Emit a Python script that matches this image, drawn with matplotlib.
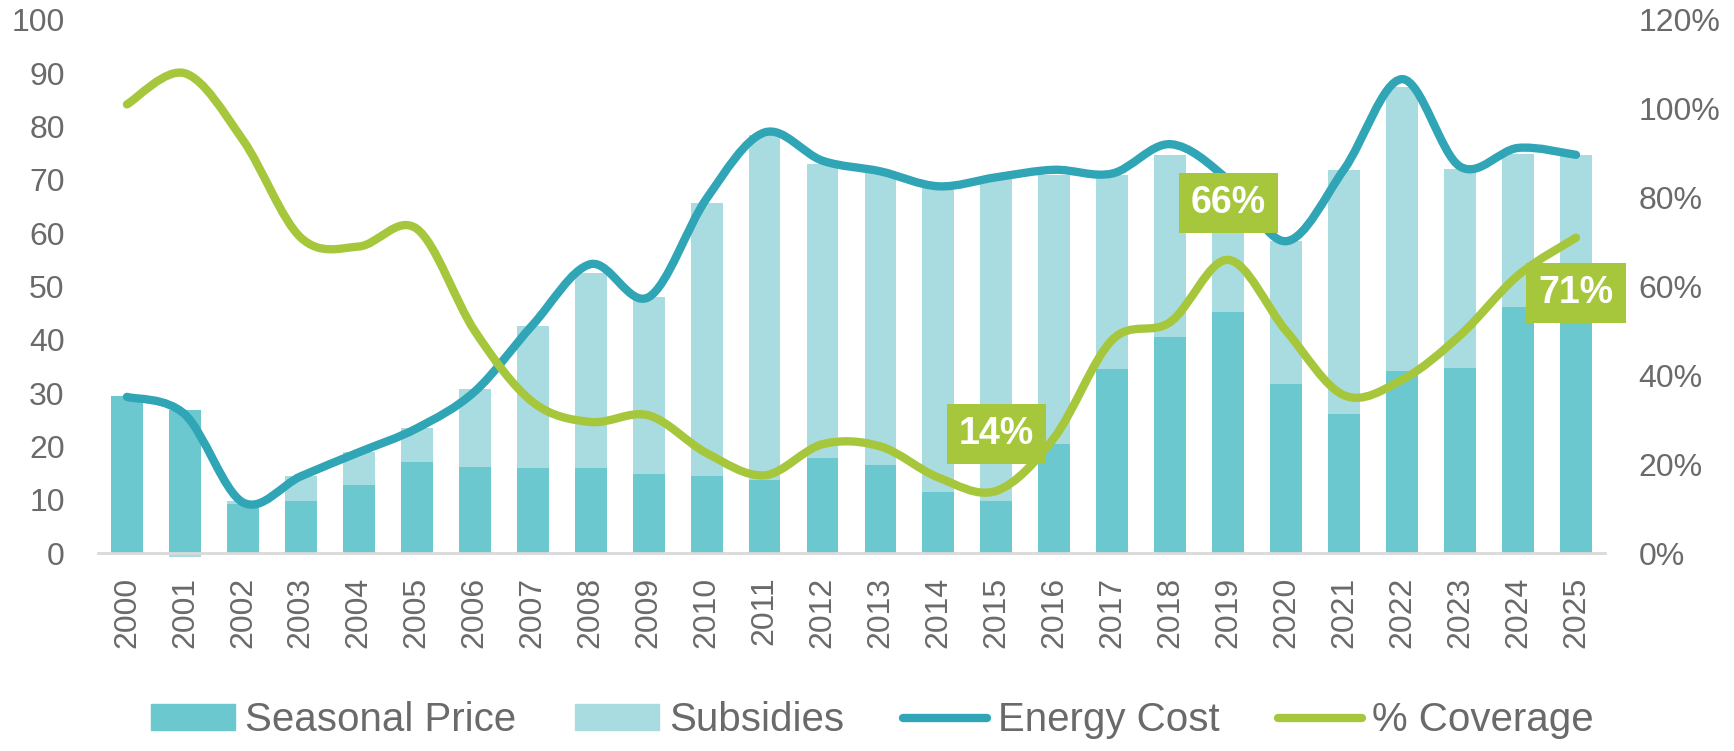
import matplotlib
matplotlib.use("Agg")
import matplotlib.pyplot as plt
from matplotlib.path import Path
from matplotlib.patches import PathPatch
from matplotlib.lines import Line2D
from matplotlib.ticker import FuncFormatter

# data
years = [str(y) for y in range(2000, 2026)]
seasonal_price = [29.4, 26.8, 9.2, 9.8, 12.8, 17.0, 16.2, 15.9, 16.0, 14.8, 14.4, 13.7, 17.8,
                  16.6, 11.4, 9.8, 20.4, 34.5, 40.6, 45.3, 31.7, 26.1, 34.1, 34.8, 46.1, 53.0]
subsidies = [0.0, -0.7, 0.6, 4.6, 6.1, 6.4, 14.5, 26.7, 36.5, 33.2, 51.3, 64.8, 55.2,
             55.0, 57.0, 60.4, 50.5, 36.4, 34.0, 23.7, 26.8, 45.8, 53.4, 37.3, 28.8, 21.7]
energy_cost = [29.3, 26.0, 9.5, 14.4, 18.9, 23.4, 30.3, 42.8, 54.2, 48.0, 66.5, 78.9, 73.6,
               71.6, 68.8, 70.5, 71.9, 71.2, 76.7, 70.0, 58.5, 72.0, 88.9, 72.5, 76.0, 74.7]
coverage = [1.01, 1.08, 0.93, 0.71, 0.69, 0.73, 0.50, 0.34, 0.295, 0.31, 0.225, 0.175, 0.245,
            0.24, 0.17, 0.14, 0.26, 0.48, 0.52, 0.66, 0.50, 0.355, 0.39, 0.49, 0.625, 0.71]
labelled = {"2015": 41, "2019": 41, "2025": -40}

c_dark = "#6AC8CE"
c_light = "#A9DCE0"
c_cost = "#30A5B6"
c_cov = "#A6C73C"
c_text = "#6A6A6A"


def smooth_path(xs, ys):
    # Excel-like smoothed line: cubic bezier through every point
    n = len(xs)
    verts = [(xs[0], ys[0])]
    codes = [Path.MOVETO]
    for i in range(n - 1):
        x0, y0 = (xs[i - 1], ys[i - 1]) if i > 0 else (xs[i], ys[i])
        x1, y1 = xs[i], ys[i]
        x2, y2 = xs[i + 1], ys[i + 1]
        x3, y3 = (xs[i + 2], ys[i + 2]) if i + 2 < n else (x2, y2)
        verts += [(x1 + (x2 - x0) / 6, y1 + (y2 - y0) / 6),
                  (x2 - (x3 - x1) / 6, y2 - (y3 - y1) / 6),
                  (x2, y2)]
        codes += [Path.CURVE4] * 3
    return Path(verts, codes)


fig = plt.figure(figsize=(17.34, 7.51), dpi=100)
ax = fig.add_axes([0.0565, 0.2636, 0.8691, 0.7098])
ax2 = ax.twinx()

x = list(range(len(years)))
bottoms = [s if d >= 0 else 0 for s, d in zip(seasonal_price, subsidies)]
ax.bar(x, seasonal_price, width=0.55, color=c_dark, zorder=2, clip_on=False)
ax.bar(x, subsidies, width=0.55, bottom=bottoms, color=c_light, zorder=2, clip_on=False)

ax.add_patch(PathPatch(smooth_path(x, energy_cost), fill=False, ec=c_cost, lw=6,
                       capstyle="round", joinstyle="round", zorder=3))
ax2.add_patch(PathPatch(smooth_path(x, coverage), fill=False, ec=c_cov, lw=6,
                        capstyle="round", joinstyle="round", zorder=3))

for yr, off in labelled.items():
    i = years.index(yr)
    ax2.annotate(f"{coverage[i]:.0%}", xy=(i, coverage[i]), xytext=(0, off),
                 textcoords="offset points", ha="center", va="center",
                 fontsize=27, fontweight="bold", color="white", family="Liberation Sans",
                 bbox=dict(boxstyle="square,pad=0.32", fc=c_cov, ec="none"), zorder=5)

ax.set_xlim(-0.5, len(years) - 0.5)
ax.set_ylim(0, 100)
ax2.set_ylim(0, 1.2)
ax.set_yticks(range(0, 101, 10))
ax2.set_yticks([0, 0.2, 0.4, 0.6, 0.8, 1.0, 1.2])
ax2.yaxis.set_major_formatter(FuncFormatter(lambda v, p: f"{v:.0%}"))
ax.set_xticks(x)
ax.set_xticklabels(years, rotation=90)

for a in (ax, ax2):
    for s in a.spines.values():
        s.set_visible(False)
ax.spines["bottom"].set_visible(True)
ax.spines["bottom"].set_color("#D9D9D9")
ax.spines["bottom"].set_linewidth(2)

ax.tick_params(axis="y", length=0, pad=24, labelsize=23, labelcolor=c_text)
ax2.tick_params(axis="y", length=0, pad=24, labelsize=23, labelcolor=c_text)
ax.tick_params(axis="x", length=0, pad=17, labelsize=23, labelcolor=c_text)
for lab in ax.get_yticklabels() + ax2.get_yticklabels() + ax.get_xticklabels():
    lab.set_family("Liberation Sans")

handles = [plt.Rectangle((0, 0), 1, 1, color=c_dark),
           plt.Rectangle((0, 0), 1, 1, color=c_light),
           Line2D([], [], color=c_cost, lw=6, solid_capstyle="round"),
           Line2D([], [], color=c_cov, lw=6, solid_capstyle="round")]
fig.legend(handles, ["Seasonal Price", "Subsidies", "Energy Cost", "% Coverage"],
           loc="center", bbox_to_anchor=(0.503, 0.041), ncol=4, frameon=False,
           prop={"family": "Liberation Sans", "size": 29},
           labelcolor=c_text, handlelength=2.1, handleheight=0.6,
           handletextpad=0.25, columnspacing=1.45)

fig.savefig("out.png", dpi=100)
